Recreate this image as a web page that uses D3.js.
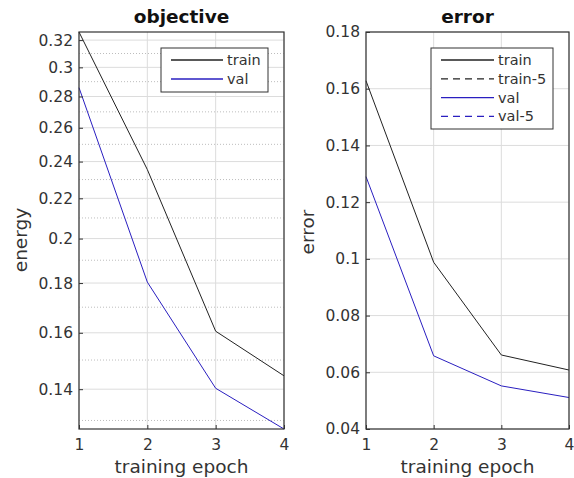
<!DOCTYPE html>
<html>
<head>
<meta charset="utf-8">
<script src="https://cdn.jsdelivr.net/npm/d3@7"></script>
<style>
  body { margin: 0; background: #fff; }
  svg { font-family: "DejaVu Sans", sans-serif; }
</style>
</head>
<body>
<div id="chart"></div>
<script>
// data
var epochs = [1, 2, 3, 4];
var energyTrain = [0.3262, 0.2355, 0.1606, 0.1445];
var energyVal = [0.2859, 0.1804, 0.1403, 0.1274];
var errorTrain = [0.1628, 0.0988, 0.0661, 0.0608];
var errorVal = [0.1290, 0.0658, 0.0552, 0.0511];
var energyTicks = [0.14, 0.16, 0.18, 0.2, 0.22, 0.24, 0.26, 0.28, 0.3, 0.32];
var energyMinor = [0.13, 0.15, 0.17, 0.19, 0.21, 0.23, 0.25, 0.27, 0.29, 0.31];
var errorTicks = [0.04, 0.06, 0.08, 0.1, 0.12, 0.14, 0.16, 0.18];
var legendLeft = ["train", "val"];
var legendRight = ["train", "train-5", "val", "val-5"];

var W = 574, H = 478;
var plotTop = 32, plotBottom = 429;

var svg = d3.select("#chart").append("svg")
    .attr("width", W)
    .attr("height", H);

function drawPanel(opt) {
    var x = d3.scaleLinear().domain([1, 4]).range([opt.left, opt.right]);
    var y = opt.y;
    var g = svg.append("g");

    // minor grid (dotted)
    (opt.minor || []).forEach(function (v) {
        g.append("line")
            .attr("x1", opt.left).attr("x2", opt.right)
            .attr("y1", y(v)).attr("y2", y(v))
            .attr("stroke", "#bdbdbd").attr("stroke-width", 1)
            .attr("stroke-dasharray", "1,2");
    });
    // major grid
    opt.ticks.forEach(function (v) {
        g.append("line")
            .attr("x1", opt.left).attr("x2", opt.right)
            .attr("y1", y(v)).attr("y2", y(v))
            .attr("stroke", "#dcdcdc").attr("stroke-width", 1);
    });
    epochs.forEach(function (e) {
        g.append("line")
            .attr("x1", x(e)).attr("x2", x(e))
            .attr("y1", plotTop).attr("y2", plotBottom)
            .attr("stroke", "#dcdcdc").attr("stroke-width", 1);
    });

    // lines
    var line = d3.line()
        .x(function (d, i) { return x(epochs[i]); })
        .y(function (d) { return y(d); });
    g.append("path").datum(opt.train)
        .attr("d", line).attr("fill", "none")
        .attr("stroke", "#222").attr("stroke-width", 1);
    g.append("path").datum(opt.val)
        .attr("d", line).attr("fill", "none")
        .attr("stroke", "#2a1fc0").attr("stroke-width", 1);

    // axes
    var ax = g.append("g")
        .attr("transform", "translate(0," + plotBottom + ")")
        .call(d3.axisBottom(x).tickValues(epochs).tickFormat(d3.format("d")).tickSizeInner(-4).tickSizeOuter(0).tickPadding(8));
    var ay = g.append("g")
        .attr("transform", "translate(" + opt.left + ",0)")
        .call(d3.axisLeft(y).tickValues(opt.ticks).tickFormat(function (d) { return String(+d.toFixed(2)); }).tickSizeInner(-4).tickSizeOuter(0).tickPadding(6));
    [ax, ay].forEach(function (a) {
        a.selectAll("text").attr("font-size", 15.5).attr("fill", "#333").attr("font-family", "DejaVu Sans");
        a.selectAll("line").attr("stroke", "#333");
        a.select(".domain").remove();
    });
    ax.selectAll("text").attr("dy", "0.85em");

    // box
    g.append("rect")
        .attr("x", opt.left).attr("y", plotTop)
        .attr("width", opt.right - opt.left).attr("height", plotBottom - plotTop)
        .attr("fill", "none").attr("stroke", "#333").attr("stroke-width", 1.2);

    // titles
    g.append("text")
        .attr("x", (opt.left + opt.right) / 2).attr("y", 23)
        .attr("text-anchor", "middle").attr("font-size", 18.5).attr("font-weight", "bold")
        .attr("fill", "#111").text(opt.title);
    g.append("text")
        .attr("x", (opt.left + opt.right) / 2).attr("y", 473)
        .attr("text-anchor", "middle").attr("font-size", 18.5).attr("fill", "#333")
        .text("training epoch");
    g.append("text")
        .attr("transform", "translate(" + opt.ylabX + "," + opt.ylabY + ") rotate(-90)")
        .attr("text-anchor", "middle").attr("font-size", 18.5).attr("fill", "#333")
        .text(opt.ylabel);

    // legend
    var lg = opt.legend;
    g.append("rect")
        .attr("x", lg.x).attr("y", lg.y).attr("width", lg.w).attr("height", lg.h)
        .attr("fill", "#fff").attr("stroke", "#333").attr("stroke-width", 1);
    lg.items.forEach(function (name, i) {
        var yy = lg.y + 12 + i * lg.step;
        var col = name.indexOf("val") === 0 ? "#2a1fc0" : "#222";
        g.append("line")
            .attr("x1", lg.x + 10).attr("x2", lg.x + 10 + lg.len)
            .attr("y1", yy).attr("y2", yy)
            .attr("stroke", col).attr("stroke-width", 1.3)
            .attr("stroke-dasharray", name.indexOf("-5") > 0 ? "7,5" : null);
        g.append("text")
            .attr("x", lg.x + 14 + lg.len).attr("y", yy + 5)
            .attr("font-size", 14.5).attr("fill", "#333").text(name);
    });
}

drawPanel({
    left: 79, right: 284,
    y: d3.scaleLog().domain([energyVal[3], energyTrain[0]]).range([plotBottom, plotTop]),
    ticks: energyTicks, minor: energyMinor,
    train: energyTrain, val: energyVal,
    title: "objective", ylabel: "energy", ylabX: 27, ylabY: 240,
    legend: { x: 161, y: 48, w: 107, h: 44, step: 19, len: 52, items: legendLeft }
});

drawPanel({
    left: 366, right: 569,
    y: d3.scaleLinear().domain([0.04, 0.18]).range([plotBottom, plotTop]),
    ticks: errorTicks, minor: [],
    train: errorTrain, val: errorVal,
    title: "error", ylabel: "error", ylabX: 314, ylabY: 232,
    legend: { x: 431, y: 48, w: 122, h: 81, step: 18.8, len: 53, items: legendRight }
});
</script>
</body>
</html>
